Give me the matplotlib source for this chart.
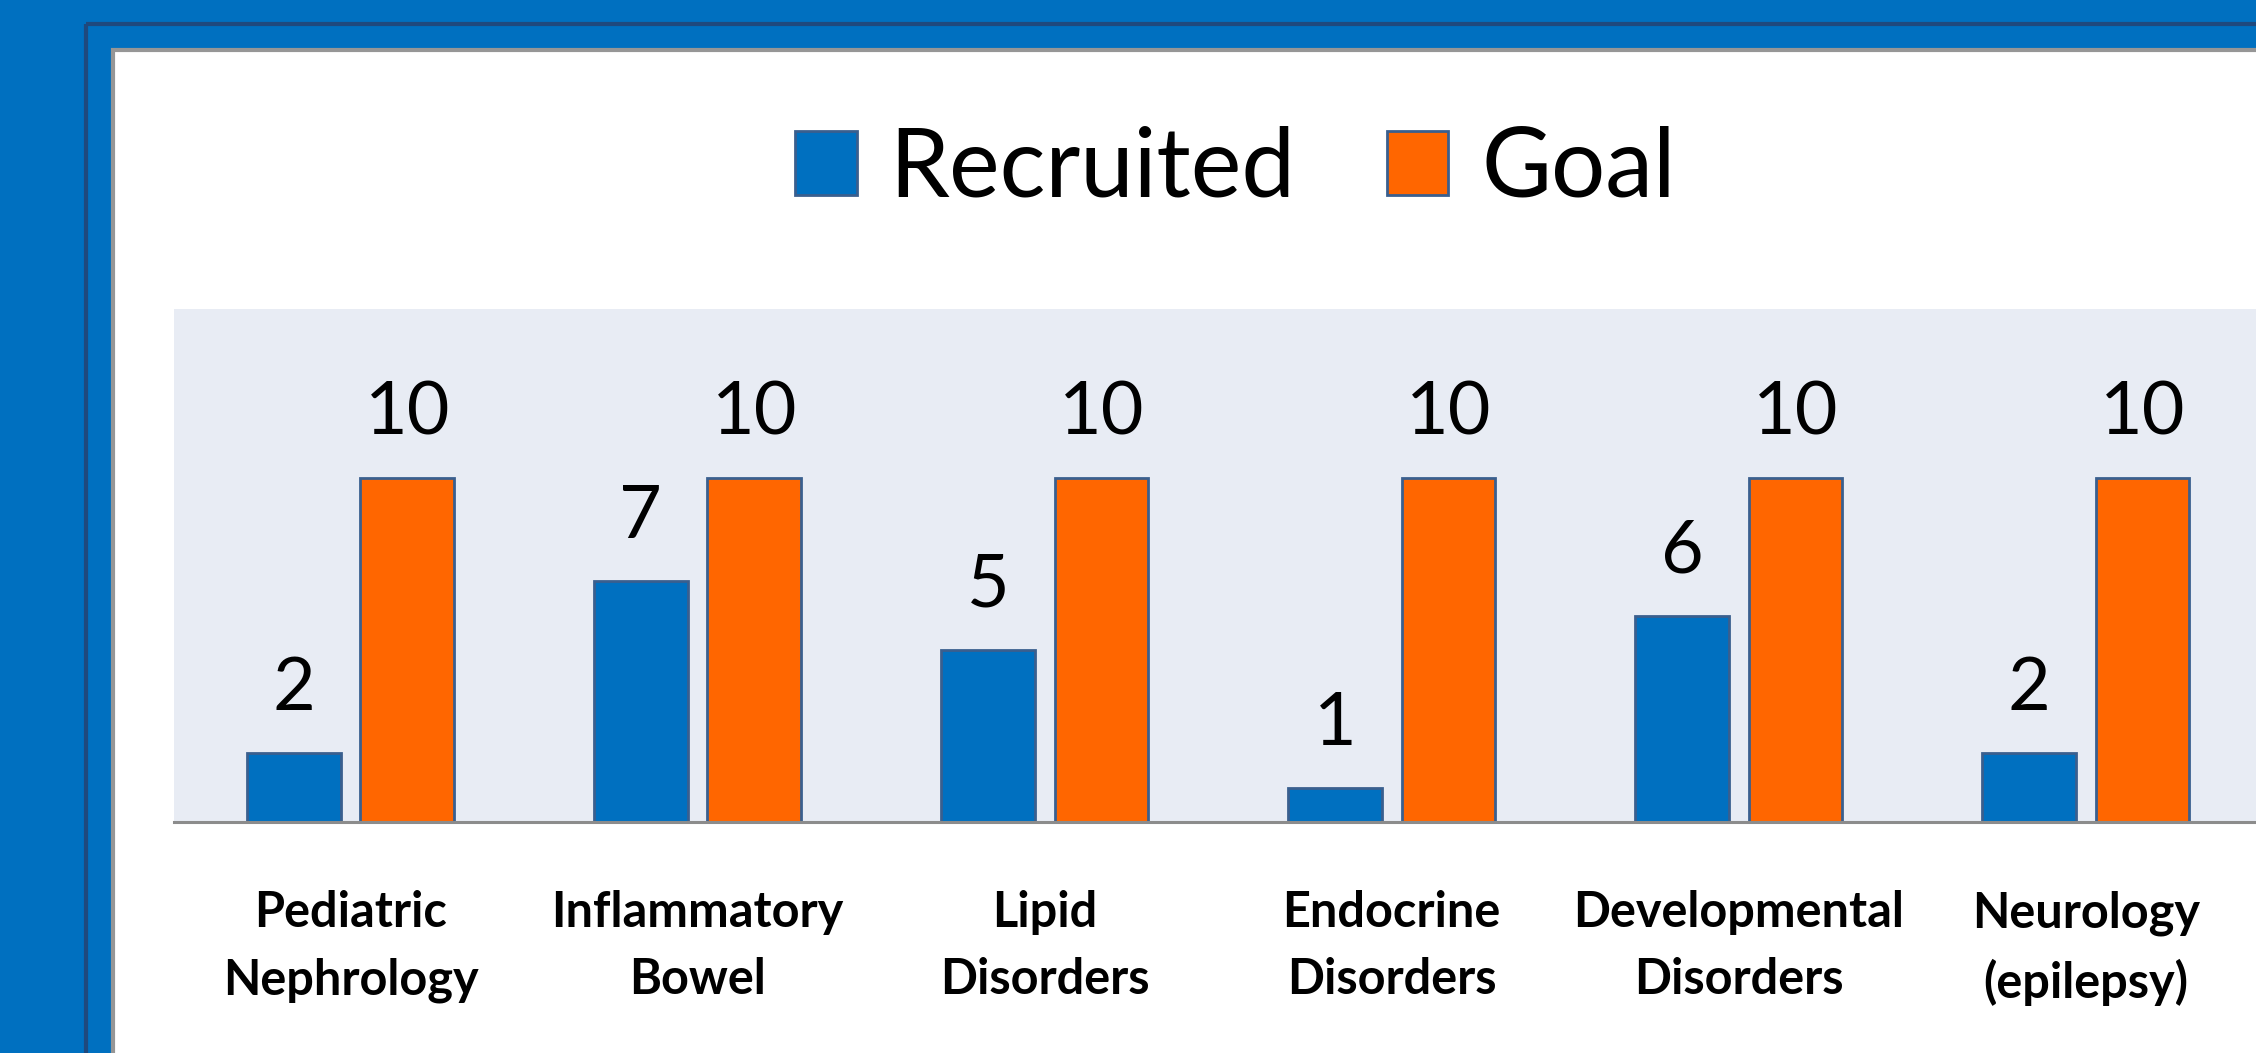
import numpy as np
import matplotlib
matplotlib.use('Agg')
import matplotlib.pyplot as plt
from matplotlib.patches import Rectangle

plt.rcParams['font.family'] = ['Lato', 'DejaVu Sans']

# 데이터
categories = ['Pediatric\nNephrology', 'Inflammatory\nBowel', 'Lipid\nDisorders',
              'Endocrine\nDisorders', 'Developmental\nDisorders', 'Neurology\n(epilepsy)']
recruited = [2, 7, 5, 1, 6, 2]
goal = [10, 10, 10, 10, 10, 10]

BLUE = '#0070C0'
ORANGE = '#FF6600'
EDGE = '#3A5F8E'

W, H = 2256, 1053
fig = plt.figure(figsize=(W / 100, H / 100), dpi=100)
fig.patch.set_facecolor(BLUE)

# 슬라이드 프레임 (픽셀 좌표)
bg = fig.add_axes([0, 0, 1, 1], zorder=0)
bg.set_xlim(0, W)
bg.set_ylim(H, 0)
bg.axis('off')
bg.add_patch(Rectangle((86, 24), 3000, 3000, facecolor='none',
                       edgecolor='#1F497D', lw=3))
bg.add_patch(Rectangle((112.5, 50), 3000, 3000, facecolor='white',
                       edgecolor='#969696', lw=3))

# 차트 영역
left_px, top_px, base_px, right_px = 174, 309, 822, 2400
ax = fig.add_axes([left_px / W, 1 - base_px / H,
                   (right_px - left_px) / W, (base_px - top_px) / H], zorder=1)
ax.set_facecolor('#E8ECF4')

x = np.arange(len(categories))
bw = 0.27
off = 0.1635
b1 = ax.bar(x - off, recruited, bw, color=BLUE, edgecolor=EDGE, lw=2.0,
            label='Recruited', zorder=3)
b2 = ax.bar(x + off, goal, bw, color=ORANGE, edgecolor=EDGE, lw=2.0,
            label='Goal', zorder=3)

for bars, vals in [(b1, recruited), (b2, goal)]:
    for rect, v in zip(bars, vals):
        ax.annotate(str(v), (rect.get_x() + rect.get_width() / 2, v),
                    xytext=(0, 31), textcoords='offset points',
                    ha='center', va='baseline', fontsize=53, color='black')

span = 347.06
ax.set_xlim((left_px - 350.5) / span, (right_px - 350.5) / span)
ax.set_ylim(0, (base_px - top_px) / 34.4)

ax.set_xticks(x)
ax.set_xticklabels(categories, fontsize=35, fontweight='bold', linespacing=1.6)
ax.tick_params(axis='x', length=0, pad=49)
ax.set_yticks([])
for s in ['top', 'left', 'right']:
    ax.spines[s].set_visible(False)
ax.spines['bottom'].set_color('#8C8C8C')
ax.spines['bottom'].set_linewidth(2.2)
ax.spines['bottom'].set_zorder(4)

leg = fig.legend(handles=[b1, b2], loc='center', bbox_to_anchor=(0.5476, 0.839),
                 ncol=2, frameon=False, fontsize=69, handlelength=0.64,
                 handleheight=0.64, handletextpad=0.34, columnspacing=0.96,
                 borderpad=0)

fig.savefig('out.png', dpi=100, facecolor=fig.get_facecolor())
